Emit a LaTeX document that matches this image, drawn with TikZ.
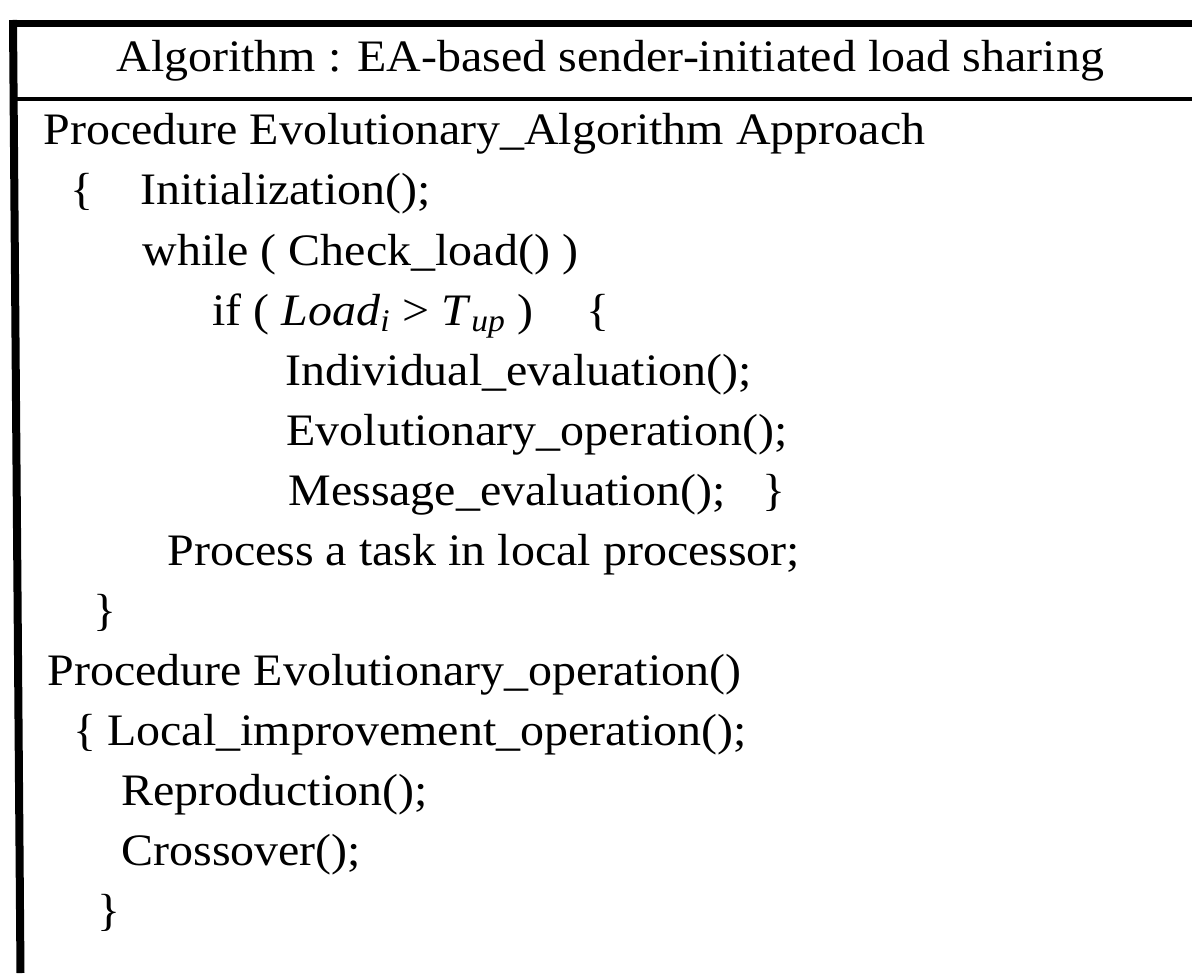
\documentclass[tikz,border=0pt]{standalone}
\usepackage{fontspec}
\setmainfont{Liberation Serif}[FakeStretch=1.066]
\usepackage{tikz}
\usetikzlibrary{positioning}
\tikzset{
  codeline/.style  = {anchor=base west, inner sep=0pt,
                      font=\fontsize{22.5}{29}\selectfont},
  frametop/.style  = {line width=3.5pt},
  frameleft/.style = {line width=4pt},
  framemid/.style  = {line width=2pt},
}
\newcommand{\sub}[1]{\textsubscript{\textit{#1}}}

\begin{document}
\begin{tikzpicture}[x=0.5pt,y=-0.5pt]
\useasboundingbox (0,0) rectangle (1192,973);
% frame (right and bottom edges are cut off)
\draw[frametop] (1192,24) -- (9,24);
\draw[frameleft] (13,20) -- (20.5,973);
\draw[framemid] (13,99.5) -- (1192,99.5);
% heading
\node[codeline] (title) at (116,72) {Algorithm : EA-based sender-initiated load sharing};
% main procedure
\node[codeline] (proc1) at (43,145) {Procedure Evolutionary\_Algorithm Approach};
\node[codeline] (open1) at (70,205) {\{};
\node[codeline] (init) at (140,205) {Initialization();};
\node[codeline] (while) at (142,265) {while ( Check\_load() )};
\node[codeline] (if) at (212,325) {if ( \textit{Load}\sub{i} > \textit{T}\sub{up} )};
\node[codeline] (open2) at (586,325) {\{};
\node[codeline] (indiv) at (285,385) {Individual\_evaluation();};
\node[codeline] (evop) at (286,445) {Evolutionary\_operation();};
\node[codeline] (msg) at (288,505) {Message\_evaluation();};
\node[codeline] (close2) at (762,505) {\}};
\node[codeline] (task) at (167,565) {Process a task in local processor;};
\node[codeline] (close1) at (93,625) {\}};
% sub procedure
\node[codeline] (proc2) at (47,685) {Procedure Evolutionary\_operation()};
\node[codeline] (open3) at (73,745) {\{};
\node[codeline] (local) at (107,745) {Local\_improvement\_operation();};
\node[codeline] (repro) at (121,805) {Reproduction();};
\node[codeline] (cross) at (121,865) {Crossover();};
\node[codeline] (close3) at (97,925) {\}};
\end{tikzpicture}
\end{document}
